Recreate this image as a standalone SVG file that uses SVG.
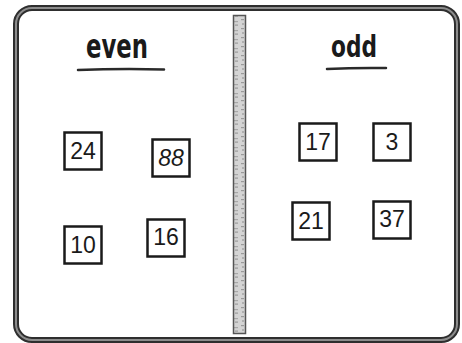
<svg xmlns="http://www.w3.org/2000/svg" width="462" height="343" viewBox="0 0 462 343">
  <defs>
    <pattern id="tex" x="0" y="0" width="12" height="9" patternUnits="userSpaceOnUse">
      <rect width="12" height="9" fill="#d4d4d4"/>
      <rect x="1" y="1" width="3" height="1.2" fill="#9a9a9a"/>
      <rect x="6" y="3" width="4" height="1.2" fill="#a8a8a8"/>
      <rect x="2" y="5" width="2" height="2" fill="#b0b0b0"/>
      <rect x="7" y="6.5" width="3" height="1.2" fill="#9a9a9a"/>
    </pattern>
  </defs>
  <style>
    .box { fill: #ffffff; stroke: #1a1a1a; stroke-width: 2.5; }
    .num { font-family: "Liberation Sans", Arial, sans-serif; font-size: 23px; fill: #1a1a1a; text-anchor: middle; }
    .title { font-family: "DejaVu Sans", "Liberation Sans", sans-serif; font-weight: bold; fill: #1a1a1a; text-anchor: middle; }
    .uline { fill: none; stroke: #2a2a2a; stroke-linecap: round; }
  </style>
  <rect width="462" height="343" fill="#ffffff"/>
  <g id="frame">
    <rect x="16" y="8" width="441" height="332" rx="16" fill="#ffffff" stroke="#2e2e2e" stroke-width="6"/>
    <rect x="16" y="8" width="441" height="332" rx="16" fill="none" stroke="#8c8c8c" stroke-width="2"/>
  </g>
  <g id="divider">
    <rect x="233.5" y="15.5" width="12" height="318" fill="url(#tex)" stroke="#555555" stroke-width="1.5"/>
  </g>
  <g id="even-header">
    <text class="title" x="117" y="58" font-size="34" textLength="62" lengthAdjust="spacingAndGlyphs">even</text>
    <path class="uline" d="M78 70 Q120 68.5 164 69.5" stroke-width="2.5"/>
  </g>
  <g id="odd-header">
    <text class="title" x="354" y="57" font-size="30" textLength="46" lengthAdjust="spacingAndGlyphs">odd</text>
    <path class="uline" d="M327 69 Q356 67.5 386 68" stroke-width="2.5"/>
  </g>
  <g id="n24"><rect class="box" x="64.5" y="132.5" width="37" height="37"/><text class="num" x="83" y="159">24</text></g>
  <g id="n88"><rect class="box" x="152.5" y="139.5" width="37" height="37"/><text class="num" x="171" y="166" font-style="italic">88</text></g>
  <g id="n10"><rect class="box" x="64.5" y="226.5" width="37" height="37"/><text class="num" x="83" y="253">10</text></g>
  <g id="n16"><rect class="box" x="147.5" y="219.5" width="37" height="37"/><text class="num" x="166" y="245">16</text></g>
  <g id="n17"><rect class="box" x="299.5" y="123.5" width="37" height="37"/><text class="num" x="318" y="150">17</text></g>
  <g id="n3"><rect class="box" x="373.5" y="123.5" width="37" height="37"/><text class="num" x="392" y="150">3</text></g>
  <g id="n21"><rect class="box" x="292.5" y="202.5" width="37" height="37"/><text class="num" x="311" y="229">21</text></g>
  <g id="n37"><rect class="box" x="373.5" y="201.5" width="37" height="37"/><text class="num" x="392" y="227">37</text></g>
</svg>
